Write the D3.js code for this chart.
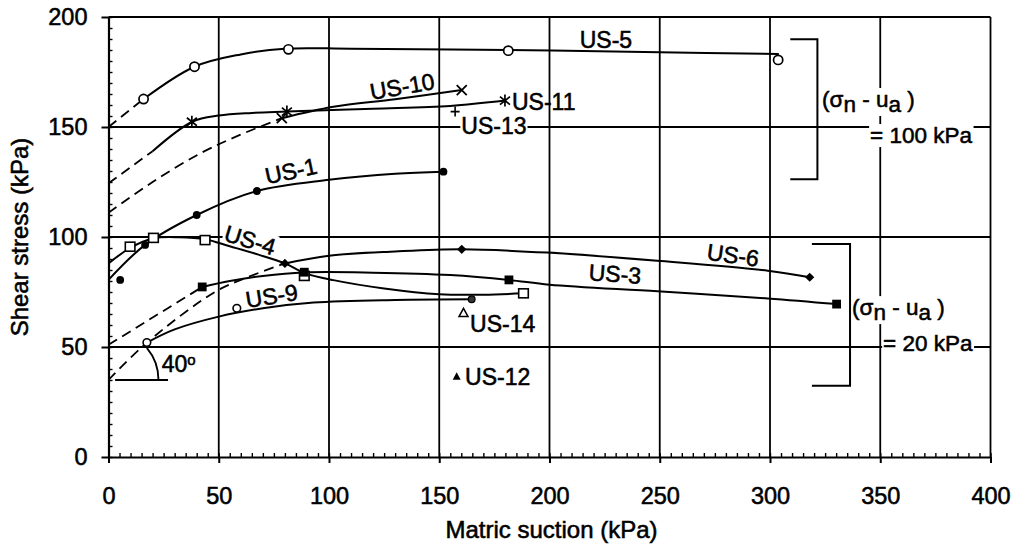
<!DOCTYPE html>
<html>
<head>
<meta charset="utf-8">
<script src="https://cdn.jsdelivr.net/npm/d3@7"></script>
<style>
  body { margin: 0; background: #fff; }
  svg { font-family: "Liberation Sans", Arial, Helvetica, sans-serif; }
  svg text { stroke: #000; stroke-width: 0.55px; fill: #000; }
</style>
</head>
<body>
<script>
// axis ticks
const xTicks = [0, 50, 100, 150, 200, 250, 300, 350, 400];
const yTicks = [0, 50, 100, 150, 200];

// measured points [matric suction, shear stress] (kPa)
const us5Pts = [[15.9, 162.7], [39, 177.4], [81.6, 185.3], [181.3, 184.7], [303.7, 180.5]];
const us1Pts = [[5.3, 80.5], [16.6, 96.4], [40, 110], [67.3, 120.9], [151.9, 129.7]];
const us4Pts = [[9.8, 95.6], [20.4, 99.6], [43.8, 98.6], [88.8, 82.3], [188.2, 74.4]];
const us3Pts = [[42.5, 77.3], [88.8, 84], [181.6, 80.5], [330.2, 69.5]];
const us6Pts = [[80, 88], [160.2, 94.4], [318, 81.7]];
const us9Pts = [[17.4, 52], [58.2, 67.6]];
const us9Last = [[164.7, 71.7]];
const us10Pts = [[78.6, 154], [160.2, 166.8]];
const us11Pts = [[37.8, 152.4], [80.9, 157], [179.8, 162]];
const us13Pts = [[157.2, 157]];
const us14Pts = [[161, 65.3]];
const us12Pts = [[157.9, 36.5]];

// fitted envelopes (solid)
const us5Fit = [[15.9, 162.7], [39, 177.4], [60, 183], [80, 185.6], [110, 185.6], [181, 185], [250, 184], [304, 183.2]];
const us10Fit = [[78.6, 154], [102, 159.2], [130, 162.6], [160.2, 166.8]];
const us11Fit = [[20, 139], [38, 152.4], [50, 155.2], [65, 156.4], [81, 157], [120, 158.3], [155, 159.6], [180, 162]];
const us1Fit = [[0, 80.5], [16.6, 96.4], [40, 110], [67.3, 120.9], [100, 126], [130, 128.8], [151.9, 129.7]];
const us4Fit = [[0, 88], [9.8, 95], [20.4, 99.4], [32, 99.9], [43.8, 99], [55, 95.8], [68, 92], [80, 88], [89, 83.6], [102, 80.4], [125, 76.6], [150, 74], [170, 73.8], [188.2, 74.4]];
const us6Fit = [[80, 88], [100, 91.5], [130, 93.4], [160.2, 94.4], [199, 92.9], [249, 89.2], [299, 84.7], [318, 81.7]];
const us3Fit = [[42.5, 77.3], [55, 80], [70, 82.3], [88.8, 83.9], [120, 83.8], [155, 82.7], [181.6, 80.5], [200, 78.3], [249, 75.3], [299, 72.1], [330.2, 69.5]];
const us9Fit = [[17.4, 52], [30, 58], [50, 63.8], [70, 67.6], [93, 70.2], [130, 71.4], [164.7, 71.7]];

// dashed extrapolations to zero suction
const us5Ext = [[0, 150], [15.9, 162.7]];
const us10Ext = [[0, 111], [20, 125], [41.6, 138], [59.6, 146.4], [78.6, 154]];
const us11Ext = [[0, 124.4], [20, 139]];
const us6Ext = [[0, 35], [17.4, 52], [48.4, 75.1], [62, 81.3], [80, 88]];
const us3Ext = [[0, 51], [42.5, 77.3]];

const W = 1014, H = 547;

const svg = d3.select("body")
  .append("svg")
  .attr("width", W)
  .attr("height", H);

const x = d3.scaleLinear().domain([0, 400]).range([108.5, 990.5]);
const y = d3.scaleLinear().domain([0, 200]).range([457, 17]);

// grid
svg.append("g")
  .selectAll("line")
  .data(xTicks.slice(1))
  .enter()
  .append("line")
  .attr("x1", d => x(d)).attr("x2", d => x(d))
  .attr("y1", y(0)).attr("y2", y(200))
  .attr("stroke", "#000").attr("stroke-width", 1.8);

svg.append("g")
  .selectAll("line")
  .data(yTicks.slice(1))
  .enter()
  .append("line")
  .attr("x1", x(0)).attr("x2", x(400))
  .attr("y1", d => y(d)).attr("y2", d => y(d))
  .attr("stroke", "#000").attr("stroke-width", 1.8);

// white box behind a text element
function boxed(t, pad) {
  const b = t.node().getBBox();
  d3.select(t.node().parentNode)
    .insert("rect", () => t.node())
    .attr("x", b.x - pad).attr("y", b.y - pad + 2)
    .attr("width", b.width + pad * 2).attr("height", b.height + pad * 2 - 4)
    .attr("fill", "#fff");
}

function label(txt, vx, vy, rot, anchor, box) {
  const g = svg.append("g")
    .attr("transform", `translate(${x(vx)},${y(vy)}) rotate(${rot})`);
  const t = g.append("text")
    .attr("text-anchor", anchor)
    .attr("dy", "0.35em")
    .style("font-size", "23px")
    .text(txt);
  if (box) boxed(t, 1);
  return t;
}

// specimen labels
label("US-5", 225.6, 189.8, 0, "middle", false);
label("US-10", 133.2, 168.4, -10, "middle", false);
label("US-11", 183, 161.4, 0, "start", false);
label("US-13", 174.8, 150.7, 0, "middle", true);
label("US-1", 82.8, 130, -12, "middle", false);
label("US-4", 64.2, 98.6, 17, "middle", true);
label("US-6", 283.2, 91.8, 8, "middle", false);
label("US-3", 229.7, 83.2, 4, "middle", false);
label("US-9", 74, 73.2, -9, "middle", false);
label("US-14", 164, 60.7, 0, "start", false);
label("US-12", 161.7, 36.6, 0, "start", false);

// net normal stress annotations
function stressNote(vx, vy, vx2, vy2, val) {
  const t1 = svg.append("text")
    .attr("x", x(vx)).attr("y", y(vy))
    .style("font-size", "22.5px");
  t1.append("tspan").text("(σ");
  t1.append("tspan").attr("dy", 5).text("n");
  t1.append("tspan").attr("dy", -5).text(" - u");
  t1.append("tspan").attr("dy", 5).text("a");
  t1.append("tspan").attr("dy", -5).text(" )");
  boxed(t1, 1);
  const t2 = svg.append("text")
    .attr("x", x(vx2)).attr("y", y(vy2))
    .style("font-size", "22.5px")
    .text(`= ${val} kPa`);
  boxed(t2, 1);
}
stressNote(323.6, 159.1, 345.4, 142.7, 100);
stressNote(337.2, 64.5, 351.3, 48.3, 20);

const bracket = d3.line().x(d => x(d[0])).y(d => y(d[1]));
svg.append("path")
  .attr("d", bracket([[309.2, 189.9], [321.5, 189.9], [321.5, 126.2], [309.2, 126.2]]))
  .attr("fill", "none").attr("stroke", "#000").attr("stroke-width", 2);
svg.append("path")
  .attr("d", bracket([[319, 96.8], [336.3, 96.8], [336.3, 32.4], [319, 32.4]]))
  .attr("fill", "none").attr("stroke", "#000").attr("stroke-width", 2);

// axes
const xMinor = d3.axisBottom(x).tickValues(d3.range(0, 401, 5)).tickSize(-4).tickSizeOuter(0).tickFormat("");
const yMinor = d3.axisLeft(y).tickValues(d3.range(0, 201, 5)).tickSize(-4).tickSizeOuter(0).tickFormat("");

svg.append("g").attr("transform", `translate(0,${y(0)})`).call(xMinor)
  .call(g => g.select(".domain").remove())
  .selectAll("line").attr("stroke-width", 1.4);
svg.append("g").attr("transform", `translate(${x(0)},0)`).call(yMinor)
  .call(g => g.select(".domain").remove())
  .selectAll("line").attr("stroke-width", 1.4);

const xAxis = svg.append("g")
  .attr("transform", `translate(0,${y(0)})`)
  .call(d3.axisBottom(x).tickValues(xTicks).tickSize(6).tickSizeOuter(0).tickPadding(24));
const yAxis = svg.append("g")
  .attr("transform", `translate(${x(0)},0)`)
  .call(d3.axisLeft(y).tickValues(yTicks).tickSize(7).tickSizeOuter(0).tickPadding(14));

[xAxis, yAxis].forEach(a => {
  a.attr("font-family", null).attr("font-size", null);
  a.select(".domain").attr("stroke-width", 2.2);
  a.selectAll(".tick line").attr("stroke-width", 2);
  a.selectAll("text").style("font-size", "23.5px");
});

svg.append("text")
  .attr("x", (x(0) + x(400)) / 2 + 2)
  .attr("y", 538)
  .attr("text-anchor", "middle")
  .style("font-size", "24px")
  .text("Matric suction (kPa)");

svg.append("text")
  .attr("transform", `translate(28,${y(100)}) rotate(-90)`)
  .attr("text-anchor", "middle")
  .style("font-size", "24px")
  .text("Shear stress (kPa)");

// 40 degree angle mark
const arcR = 50;
svg.append("line")
  .attr("x1", x(3)).attr("x2", x(27))
  .attr("y1", y(35)).attr("y2", y(35))
  .attr("stroke", "#000").attr("stroke-width", 2);
const a40 = 40 * Math.PI / 180;
svg.append("path")
  .attr("d", `M${x(0) + arcR},${y(35)} A${arcR},${arcR} 0 0 0 ${x(0) + arcR * Math.cos(a40)},${y(35) - arcR * Math.sin(a40)}`)
  .attr("fill", "none").attr("stroke", "#000").attr("stroke-width", 1.8);
const deg = svg.append("text")
  .attr("x", x(24.1)).attr("y", y(38.8))
  .style("font-size", "23px");
deg.append("tspan").text("40");
deg.append("tspan").attr("dy", -7).style("font-size", "15px").text("o");

// envelopes
const curve = d3.line()
  .x(d => x(d[0]))
  .y(d => y(d[1]))
  .curve(d3.curveCatmullRom.alpha(0.5));

svg.append("g")
  .selectAll("path")
  .data([us5Ext, us10Ext, us11Ext, us6Ext, us3Ext])
  .enter()
  .append("path")
  .attr("d", curve)
  .attr("fill", "none")
  .attr("stroke", "#000")
  .attr("stroke-width", 1.8)
  .attr("stroke-dasharray", "10,6");

svg.append("g")
  .selectAll("path")
  .data([us5Fit, us10Fit, us11Fit, us1Fit, us4Fit, us6Fit, us3Fit, us9Fit])
  .enter()
  .append("path")
  .attr("d", curve)
  .attr("fill", "none")
  .attr("stroke", "#000")
  .attr("stroke-width", 2);

// markers
const shapes = {
  circle: g => g.append("circle").attr("r", 4.6).attr("fill", "#fff").attr("stroke", "#000").attr("stroke-width", 1.7),
  smallCircle: g => g.append("circle").attr("r", 3.8).attr("fill", "#fff").attr("stroke", "#000").attr("stroke-width", 1.6),
  dot: g => g.append("circle").attr("r", 3.9).attr("fill", "#000"),
  ring: g => g.append("circle").attr("r", 3.4).attr("fill", "#333").attr("stroke", "#000").attr("stroke-width", 1.2),
  square: g => g.append("rect").attr("x", -4.8).attr("y", -4.5).attr("width", 9.6).attr("height", 9).attr("fill", "#fff").attr("stroke", "#000").attr("stroke-width", 1.6),
  fsquare: g => g.append("rect").attr("x", -4.4).attr("y", -4.4).attr("width", 8.8).attr("height", 8.8).attr("fill", "#000"),
  diamond: g => g.append("path").attr("d", "M0,-4.6L4.6,0L0,4.6L-4.6,0Z").attr("fill", "#000"),
  times: g => g.append("path").attr("d", "M-5,-5L5,5M-5,5L5,-5").attr("stroke", "#000").attr("stroke-width", 1.8),
  aster: g => g.append("path").attr("d", "M-5,-4L5,4M-5,4L5,-4M0,-6V6").attr("stroke", "#000").attr("stroke-width", 1.7),
  plus: g => g.append("path").attr("d", "M-4.5,0H4.5M0,-5V5").attr("stroke", "#000").attr("stroke-width", 1.6),
  tri: g => g.append("path").attr("d", "M0,-5L4.5,3.2L-4.5,3.2Z").attr("fill", "#fff").attr("stroke", "#000").attr("stroke-width", 1.5),
  ftri: g => g.append("path").attr("d", "M0,-4.5L4,3L-4,3Z").attr("fill", "#000")
};

function markers(pts, kind) {
  svg.append("g")
    .selectAll("g")
    .data(pts)
    .enter()
    .append("g")
    .attr("transform", d => `translate(${x(d[0])},${y(d[1])})`)
    .each(function () { shapes[kind](d3.select(this)); });
}

markers(us5Pts, "circle");
markers(us1Pts, "dot");
markers(us4Pts, "square");
markers(us3Pts, "fsquare");
markers(us6Pts, "diamond");
markers(us9Pts, "smallCircle");
markers(us9Last, "ring");
markers(us10Pts, "times");
markers(us11Pts, "aster");
markers(us13Pts, "plus");
markers(us14Pts, "tri");
markers(us12Pts, "ftri");
</script>
</body>
</html>
